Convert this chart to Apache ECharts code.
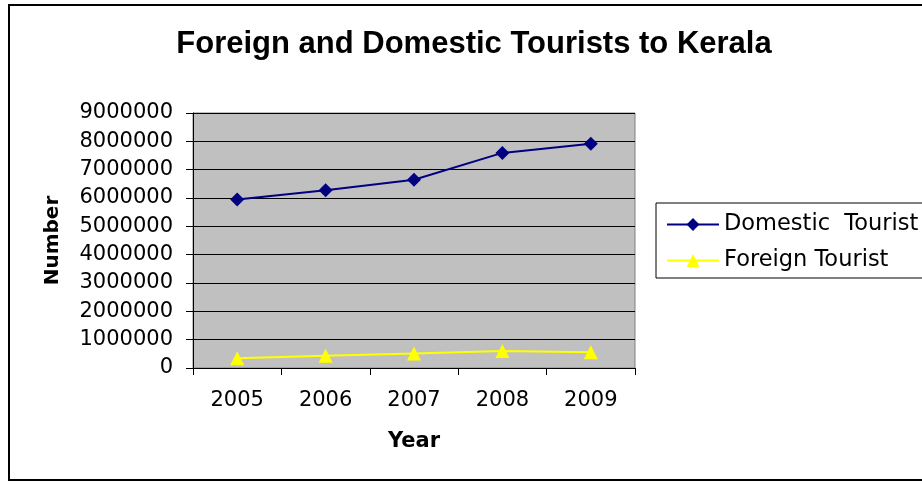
<!DOCTYPE html>
<html>
<head>
<meta charset="utf-8">
<script src="https://cdn.jsdelivr.net/npm/echarts@6/dist/echarts.min.js"></script>
<style>
    html, body { margin: 0; padding: 0; background: #fff; }
    #chart { width: 922px; height: 484px; }
</style>
</head>
<body>
<div id="chart"></div>
<script>
const years = ["2005", "2006", "2007", "2008", "2009"];
const domesticTourists = [5946423, 6271724, 6642941, 7591250, 7913537];
const foreignTourists = [346499, 428534, 515808, 598929, 557258];

const font = "DejaVu Sans, sans-serif";
const titleFont = "Liberation Sans, Arial, sans-serif";

const chart = echarts.init(document.getElementById("chart"));

chart.setOption({
    animation: false,
    backgroundColor: "#fff",
    textStyle: { fontFamily: font },
    title: {
        text: "Foreign and Domestic Tourists to Kerala",
        left: 469,
        textAlign: "center",
        top: 24,
        textStyle: { fontSize: 31, fontWeight: "bold", color: "#000", fontFamily: titleFont }
    },
    graphic: [
        {
            type: "rect",
            shape: { x: 9, y: 5, width: 1000, height: 475 },
            style: { fill: "none", stroke: "#000", lineWidth: 2 },
            z: 100
        }
    ],
    legend: {
        orient: "vertical",
        left: 656,
        top: 203,
        padding: [10, 20, 6, 10],
        itemGap: 13,
        itemWidth: 52,
        itemHeight: 16,
        borderColor: "#000",
        borderWidth: 1,
        textStyle: { fontSize: 22.5, color: "#000", fontFamily: font },
        data: ["Domestic  Tourist", "Foreign Tourist"]
    },
    grid: {
        left: 193,
        top: 113,
        width: 442,
        height: 255,
        show: true,
        backgroundColor: "#C0C0C0",
        borderColor: "#808080",
        borderWidth: 1
    },
    xAxis: {
        type: "category",
        data: years,
        boundaryGap: true,
        name: "Year",
        nameLocation: "middle",
        nameGap: 63,
        nameTextStyle: { fontSize: 21, fontWeight: "bold", color: "#000", fontFamily: font },
        axisLine: { lineStyle: { color: "#000", width: 1 } },
        axisTick: { show: true, length: 7, lineStyle: { color: "#000" } },
        axisLabel: { fontSize: 21, color: "#000", margin: 22, fontFamily: font }
    },
    yAxis: {
        type: "value",
        min: 0,
        max: 9000000,
        interval: 1000000,
        name: "Number",
        nameLocation: "middle",
        nameRotate: 90,
        nameGap: 130,
        nameTextStyle: { fontSize: 20, fontWeight: "bold", color: "#000", fontFamily: font },
        axisLine: { show: true, lineStyle: { color: "#000", width: 1 } },
        axisTick: { show: true, length: 7, lineStyle: { color: "#000" } },
        axisLabel: { fontSize: 21, color: "#000", margin: 20, fontFamily: font, formatter: v => String(v) },
        splitLine: { show: true, lineStyle: { color: "#000", width: 1 } }
    },
    series: [
        {
            name: "Domestic  Tourist",
            type: "line",
            data: domesticTourists,
            symbol: "diamond",
            symbolSize: 14,
            itemStyle: { color: "#000080" },
            lineStyle: { color: "#000080", width: 2 }
        },
        {
            name: "Foreign Tourist",
            type: "line",
            data: foreignTourists,
            symbol: "triangle",
            symbolSize: 14,
            itemStyle: { color: "#FFFF00" },
            lineStyle: { color: "#FFFF00", width: 2 }
        }
    ]
});
</script>
</body>
</html>
